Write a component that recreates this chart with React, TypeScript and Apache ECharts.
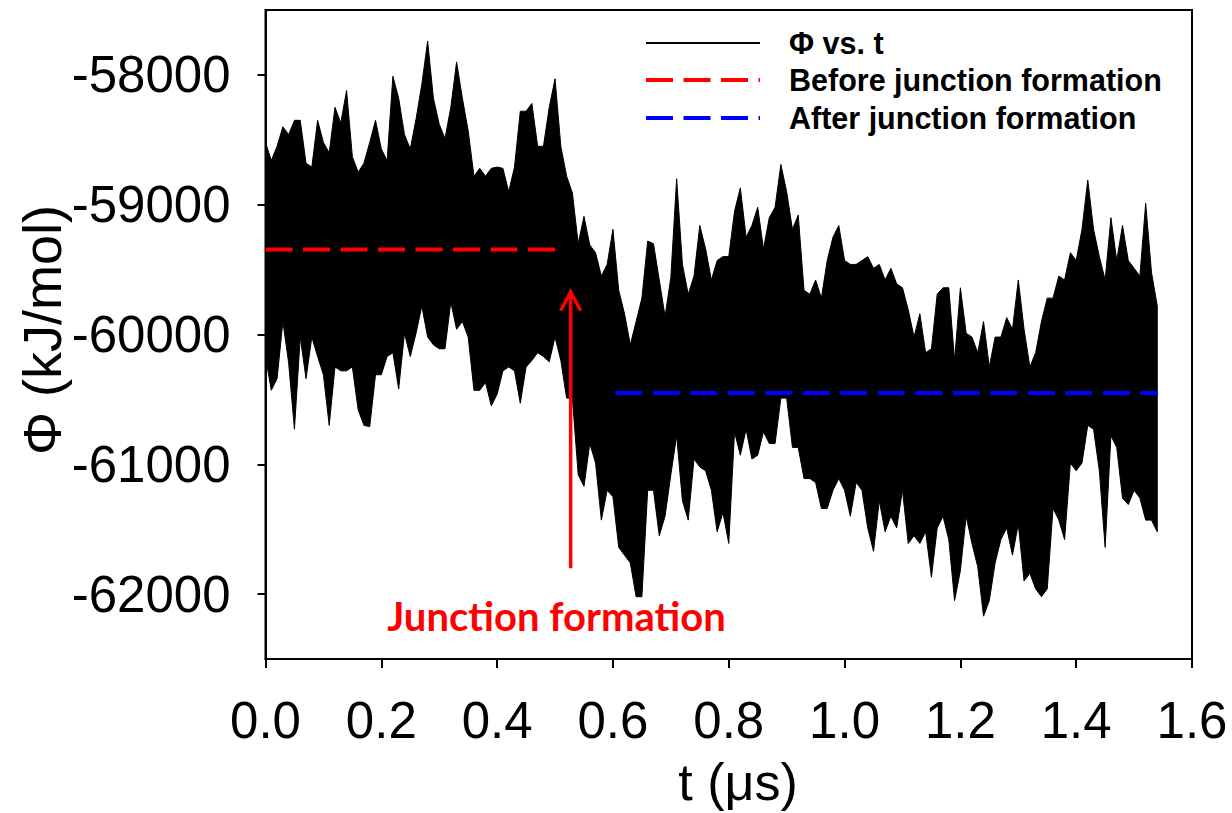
import { useEffect, useRef } from "react";
import * as echarts from "echarts";

// ---- data ----
// sampling step of the envelope readings (t in µs)
const T_STEP = 0.01;

// upper envelope of Φ(t), kJ/mol, at t = 0, 0.01, ... 1.54
const upper = [
  -58520, -58660, -58550, -58400, -58460, -58350, -58350, -58680, -58710, -58350,
  -58520, -58600, -58250, -58370, -58120, -58630, -58750, -58680, -58520, -58350,
  -58570, -58660, -58010, -58180, -58460, -58570, -58340, -58070, -57740, -58180,
  -58380, -58490, -58250, -57900, -58180, -58430, -58780, -58720, -58780, -58720,
  -58710, -58720, -58900, -58710, -58280, -58280, -58220, -58550, -58550, -58250,
  -58030, -58550, -58780, -58910, -59300, -59090, -59310, -59370, -59550, -59460,
  -59190, -59660, -59840, -60080, -59900, -59720, -59280, -59300, -59580, -59860,
  -59560, -58800, -59460, -59690, -59550, -59160, -59340, -59580, -59430, -59400,
  -59400, -59050, -58870, -59250, -59160, -59020, -59340, -59100, -59020, -58690,
  -58900, -59190, -59080, -59660, -59690, -59580, -59720, -59430, -59250, -59160,
  -59430, -59460, -59460, -59430, -59400, -59490, -59460, -59580, -59490, -59610,
  -59640, -59810, -60020, -59840, -60140, -60110, -59690, -59640, -59640, -60200,
  -59640, -59990, -60020, -60140, -59900, -60250, -60020, -60020, -59870, -59960,
  -59580, -59960, -60250, -60140, -59900, -59720, -59720, -59550, -59580, -59370,
  -59430, -59190, -58810, -59190, -59400, -59580, -59100, -59430, -59160, -59430,
  -59490, -59550, -58990, -59520, -59780,
];

// lower envelope of Φ(t), kJ/mol, same t grid
const lower = [
  -60170, -60430, -60340, -59900, -60220, -60730, -60020, -60340, -60020, -60170,
  -60310, -60700, -60250, -60280, -60280, -60250, -60580, -60700, -60710, -60310,
  -60310, -60170, -60140, -60420, -59990, -60170, -59990, -59780, -60020, -60080,
  -60110, -60110, -59750, -59960, -59900, -60020, -60430, -60430, -60370, -60550,
  -60460, -60280, -60250, -60280, -60530, -60250, -60200, -60140, -60170, -60210,
  -60020, -60200, -60490, -60490, -61080, -61170, -60840, -60990, -61430, -61200,
  -61250, -61640, -61700, -61760, -62020, -62020, -61200, -61200, -61550, -61400,
  -61080, -60780, -61280, -61430, -60960, -61020, -61050, -61200, -61520, -61370,
  -61610, -60750, -60930, -60730, -60960, -60930, -60750, -60840, -60840, -60490,
  -60490, -60870, -60870, -61110, -61110, -61140, -61340, -61340, -61200, -61110,
  -61200, -61400, -61140, -61200, -61490, -61670, -61280, -61520, -61400, -61490,
  -61200, -61610, -61550, -61610, -61520, -61870, -61490, -61400, -61580, -62050,
  -61820, -61400, -61610, -61790, -62170, -62050, -61760, -61580, -61490, -61700,
  -61460, -61900, -61840, -61960, -62020, -61960, -61340, -61430, -61580, -60990,
  -61050, -60990, -60700, -60730, -61050, -61640, -60780, -60870, -61260, -61310,
  -61200, -61260, -61430, -61430, -61520,
];

// mean levels before / after junction formation
const beforeLevel = -59345;
const beforeSpan = [0, 0.503];
const afterLevel = -60450;
const afterSpan = [0.604, 1.541];

// arrow marking junction formation
const arrowT = 0.527;
const arrowFrom = -61800;
const arrowTo = -59670;
const arrowHeadHalfT = 0.0173;
const arrowHeadDrop = 147;

// axes
const xTicks = [0, 0.2, 0.4, 0.6, 0.8, 1.0, 1.2, 1.4, 1.6];
const yTicks = [-62000, -61000, -60000, -59000, -58000];
const yMin = -62500;
const yMax = -57500;

const legendNames = ["Φ vs. t", "Before junction formation", "After junction formation"];

const FONT = '"Liberation Sans", Arial, Helvetica, sans-serif';

export default function App() {
  const ref = useRef<HTMLDivElement>(null);

  useEffect(() => {
    if (!ref.current) return;
    const chart = echarts.init(ref.current, undefined, { renderer: "svg" });

    const bandData = upper.map((v, i) => [i * T_STEP, v, lower[i]]);

    const legendText = (i: number, y: number) => ({
      type: "text",
      x: 789,
      y,
      style: {
        text: legendNames[i],
        fontSize: 30.5,
        fontWeight: "bold",
        fontFamily: FONT,
        fill: "#000",
        textAlign: "left",
        textVerticalAlign: "middle",
      },
    });

    const option: any = {
      animation: false,
      backgroundColor: "#fff",
      grid: {
        left: 265.5,
        right: 40,
        top: 10,
        bottom: 154,
        show: true,
        borderColor: "#000",
        borderWidth: 2,
        backgroundColor: "transparent",
      },
      xAxis: {
        type: "value",
        min: xTicks[0],
        max: xTicks[xTicks.length - 1],
        interval: 0.2,
        axisLine: { show: true, onZero: false, lineStyle: { color: "#000", width: 2 } },
        axisTick: { show: true, inside: false, length: 9, lineStyle: { color: "#000", width: 2 } },
        splitLine: { show: false },
        axisLabel: {
          show: true,
          margin: 36,
          showMinLabel: true,
          showMaxLabel: true,
          color: "#000",
          fontSize: 51,
          fontFamily: FONT,
          formatter: (v: number) => v.toFixed(1),
        },
      },
      yAxis: {
        type: "value",
        min: yMin,
        max: yMax,
        axisLine: { show: true, onZero: false, lineStyle: { color: "#000", width: 2 } },
        axisTick: {
          show: true,
          inside: false,
          length: 8,
          customValues: yTicks,
          lineStyle: { color: "#000", width: 2 },
        },
        splitLine: { show: false },
        axisLabel: {
          show: true,
          margin: 35,
          customValues: yTicks,
          color: "#000",
          fontSize: 51,
          fontFamily: FONT,
          formatter: (v: number) => String(v),
        },
      },
      series: [
        {
          name: legendNames[0],
          type: "custom",
          coordinateSystem: "cartesian2d",
          data: bandData,
          encode: { x: 0, y: 1 },
          z: 2,
          renderItem: (params: any, api: any) => {
            if (params.dataIndex !== 0) return null;
            const pts: number[][] = [];
            for (let i = 0; i < upper.length; i++) pts.push(api.coord([i * T_STEP, upper[i]]));
            for (let i = lower.length - 1; i >= 0; i--) pts.push(api.coord([i * T_STEP, lower[i]]));
            return {
              type: "polygon",
              shape: { points: pts },
              style: { fill: "#000", stroke: "#000", lineWidth: 1, lineJoin: "miter", miterLimit: 3 },
            };
          },
        },
        {
          name: legendNames[1],
          type: "line",
          data: [
            [beforeSpan[0], beforeLevel],
            [beforeSpan[1], beforeLevel],
          ],
          symbol: "none",
          z: 3,
          lineStyle: { color: "#ff0000", width: 4, type: [27, 10.5] },
        },
        {
          name: legendNames[2],
          type: "line",
          data: [
            [afterSpan[0], afterLevel],
            [afterSpan[1], afterLevel],
          ],
          symbol: "none",
          z: 3,
          lineStyle: { color: "#0000ff", width: 4, type: [27, 10.5] },
        },
        {
          name: "arrow",
          type: "line",
          data: [
            [arrowT, arrowFrom],
            [arrowT, arrowTo],
          ],
          symbol: "none",
          z: 4,
          lineStyle: { color: "#ff0000", width: 3.5 },
        },
        {
          name: "arrowHead",
          type: "line",
          data: [
            [arrowT - arrowHeadHalfT, arrowTo - arrowHeadDrop],
            [arrowT, arrowTo],
            [arrowT + arrowHeadHalfT, arrowTo - arrowHeadDrop],
          ],
          symbol: "none",
          z: 4,
          lineStyle: { color: "#ff0000", width: 3.5, join: "miter" },
        },
      ],
      graphic: [
        // legend
        { type: "line", shape: { x1: 646, y1: 43, x2: 760, y2: 43 }, style: { stroke: "#000", lineWidth: 2 } },
        legendText(0, 43),
        { type: "line", shape: { x1: 646, y1: 80, x2: 760, y2: 80 }, style: { stroke: "#ff0000", lineWidth: 4, lineDash: [27, 10.5] } },
        legendText(1, 80),
        { type: "line", shape: { x1: 646, y1: 118, x2: 760, y2: 118 }, style: { stroke: "#0000ff", lineWidth: 4, lineDash: [27, 10.5] } },
        legendText(2, 118),
        // annotation
        {
          type: "text",
          x: 556.5,
          y: 616,
          style: {
            text: "Junction formation",
            fontSize: 40,
            fontWeight: "bold",
            fontFamily: "Lato, 'Open Sans', sans-serif",
            fill: "#ff0000",
            textAlign: "center",
            textVerticalAlign: "middle",
          },
        },
        // axis titles
        {
          type: "text",
          x: 738,
          y: 782,
          style: { text: "t (μs)", fontSize: 52, fontFamily: FONT, fill: "#000", textAlign: "center", textVerticalAlign: "middle" },
        },
        {
          type: "text",
          x: 42,
          y: 330,
          rotation: Math.PI / 2,
          style: { text: "Φ (kJ/mol)", fontSize: 54, fontFamily: FONT, fill: "#000", textAlign: "center", textVerticalAlign: "middle" },
        },
      ],
    };

    chart.setOption(option);
    return () => chart.dispose();
  }, []);

  return (
    <div
      ref={ref}
      style={{ position: "fixed", left: 0, top: 0, width: 1232, height: 813, background: "#fff" }}
    />
  );
}
